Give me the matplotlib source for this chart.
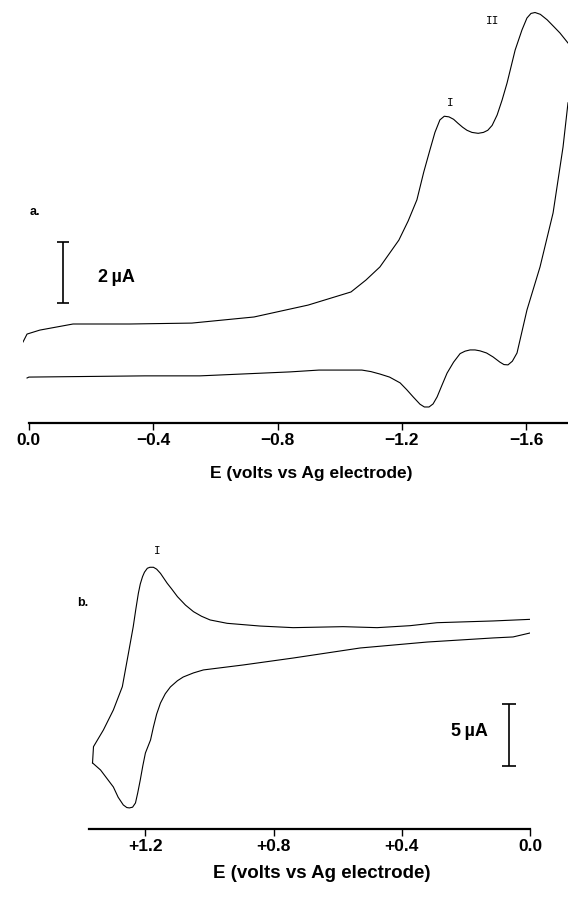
import numpy as np
import matplotlib
matplotlib.use('Agg')
import matplotlib.pyplot as plt

plt.rcParams['font.family'] = ['Liberation Sans', 'DejaVu Sans']

# Panel a: cathodic scan (E in volts, current in uA, arbitrary offset)
ea_fwd = [0.019, 0.006, -0.035, -0.142, -0.325, -0.524, -0.724, -0.898, -1.036,
          -1.084, -1.129, -1.190, -1.220, -1.248, -1.270, -1.290, -1.306, -1.322,
          -1.336, -1.351, -1.366, -1.380, -1.395, -1.409, -1.425, -1.445, -1.462,
          -1.476, -1.490, -1.506, -1.522, -1.538, -1.564, -1.586, -1.602, -1.615,
          -1.628, -1.645, -1.667, -1.690, -1.708, -1.734]
ia_fwd = [1.18, 1.44, 1.57, 1.77, 1.77, 1.80, 2.00, 2.39, 2.82,
          3.21, 3.64, 4.52, 5.15, 5.84, 6.75, 7.48, 8.05, 8.46,
          8.58, 8.56, 8.48, 8.35, 8.22, 8.12, 8.05, 8.02, 8.05,
          8.12, 8.28, 8.62, 9.11, 9.67, 10.75, 11.41, 11.80, 11.95,
          11.98, 11.92, 11.74, 11.50, 11.31, 10.98]

ea_rev = [-1.734, -1.718, -1.686, -1.644, -1.602, -1.570, -1.555, -1.541, -1.528,
          -1.515, -1.493, -1.472, -1.451, -1.435, -1.419, -1.403, -1.387, -1.366,
          -1.345, -1.328, -1.313, -1.300, -1.287, -1.272, -1.258, -1.236, -1.215,
          -1.194, -1.160, -1.129, -1.100, -1.071, -0.933, -0.840, -0.550, -0.373,
          0.0, 0.006]
ia_rev = [9.02, 7.57, 5.41, 3.64, 2.23, 0.82, 0.55, 0.43, 0.44,
          0.52, 0.69, 0.82, 0.89, 0.92, 0.92, 0.88, 0.80, 0.52,
          0.16, -0.25, -0.62, -0.85, -0.95, -0.95, -0.86, -0.62, -0.38,
          -0.16, 0.03, 0.13, 0.21, 0.26, 0.26, 0.20, 0.07, 0.07,
          0.03, 0.0]

ticks_a = [0.0, -0.4, -0.8, -1.2, -1.6]
labels_a = ['0.0', '\u22120.4', '\u22120.8', '\u22121.2', '\u22121.6']

# Panel b: anodic scan
eb_up = [0.000, 0.115, 0.290, 0.374, 0.477, 0.583, 0.739, 0.842, 0.945, 0.998,
         1.025, 1.050, 1.075, 1.100, 1.118, 1.132, 1.153, 1.165, 1.175, 1.186,
         1.194, 1.203, 1.209, 1.216, 1.222, 1.230, 1.238, 1.253, 1.272, 1.300,
         1.331, 1.362, 1.365]
ib_up = [1.10, 0.97, 0.83, 0.59, 0.43, 0.51, 0.43, 0.56, 0.78, 1.05,
         1.35, 1.72, 2.25, 2.93, 3.55, 4.01, 4.81, 5.15, 5.30, 5.30,
         5.22, 4.90, 4.54, 3.95, 3.20, 1.90, 0.51, -1.64, -4.33, -6.21,
         -7.82, -9.17, -10.48]

eb_low = [1.365, 1.340, 1.300, 1.285, 1.269, 1.258, 1.250, 1.240, 1.231, 1.224,
          1.216, 1.208, 1.200, 1.184, 1.175, 1.165, 1.153, 1.138, 1.122, 1.100,
          1.082, 1.050, 1.019, 0.895, 0.739, 0.530, 0.321, 0.115, 0.053, 0.000]
ib_low = [-10.48, -11.05, -12.42, -13.25, -13.87, -14.08, -14.11, -14.05, -13.71, -12.90,
          -11.85, -10.70, -9.68, -8.63, -7.58, -6.55, -5.65, -4.90, -4.35, -3.85,
          -3.55, -3.22, -2.98, -2.58, -2.02, -1.21, -0.73, -0.40, -0.32, 0.00]

ticks_b = [1.2, 0.8, 0.4, 0.0]
labels_b = ['+1.2', '+0.8', '+0.4', '0.0']

W, H = 568, 897
fig = plt.figure(figsize=(W / 100, H / 100), dpi=100)

# ---- panel a ----
ax_a = fig.add_axes([23 / W, (H - 423) / H, 545 / W, 423 / H])
ax_a.plot(ea_fwd, ia_fwd, color='black', lw=0.8)
ax_a.plot(ea_rev, ia_rev, color='black', lw=0.8)
ax_a.set_xlim(0.019, -1.734)
ax_a.set_ylim(-1.475, 12.39)

# 2 uA scale bar
ax_a.errorbar([-0.109], [3.46], yerr=1.0, color='black', lw=1.2, capsize=4, capthick=1.2)
ax_a.text(-0.222, 3.31, '2\u2009\u00b5A', fontsize=13, fontweight='bold', ha='left', va='center')
ax_a.text(-1.355, 9.02, 'I', family='DejaVu Sans Mono', fontsize=8, ha='center', va='center')
ax_a.text(-1.493, 11.70, 'II', family='DejaVu Sans Mono', fontsize=8, ha='center', va='center')

for s in ['left', 'right', 'top']:
    ax_a.spines[s].set_visible(False)
ax_a.spines['bottom'].set_bounds(0.0, -1.734)
ax_a.spines['bottom'].set_linewidth(1.6)
ax_a.set_yticks([])
ax_a.set_xticks(ticks_a)
ax_a.set_xticklabels(labels_a, fontweight='bold')
ax_a.tick_params(axis='x', direction='out', length=5, width=1, pad=2, labelsize=12.5)

fig.text(35 / W, 1 - 212 / H, 'a.', fontsize=9, fontweight='bold', ha='center', va='center')
fig.text(311 / W, 1 - 473 / H, 'E (volts vs Ag electrode)', fontsize=12.5,
         fontweight='bold', ha='center', va='center')

# ---- panel b ----
ax_b = fig.add_axes([89 / W, (H - 829) / H, (530 - 89) / W, (829 - 540) / H])
ax_b.plot(eb_up, ib_up, color='black', lw=0.8)
ax_b.plot(eb_low, ib_low, color='black', lw=0.8)
ax_b.set_xlim(1.376, 0.0)
ax_b.set_ylim(-15.81, 7.5)

# 5 uA scale bar
ax_b.errorbar([0.065], [-8.23], yerr=2.5, color='black', lw=1.2, capsize=5, capthick=1.2)
ax_b.text(0.190, -7.98, '5\u2009\u00b5A', fontsize=13, fontweight='bold', ha='center', va='center')
ax_b.text(1.163, 6.61, 'I', family='DejaVu Sans Mono', fontsize=8, ha='center', va='center')

for s in ['left', 'right', 'top']:
    ax_b.spines[s].set_visible(False)
ax_b.spines['bottom'].set_linewidth(1.6)
ax_b.set_yticks([])
ax_b.set_xticks(ticks_b)
ax_b.set_xticklabels(labels_b, fontweight='bold')
ax_b.tick_params(axis='x', direction='out', length=5, width=1, pad=2, labelsize=12.5)

fig.text(83 / W, 1 - 603 / H, 'b.', fontsize=9, fontweight='bold', ha='center', va='center')
fig.text(322 / W, 1 - 873 / H, 'E (volts vs Ag electrode)', fontsize=13.5,
         fontweight='bold', ha='center', va='center')

fig.savefig('out.png', dpi=100)
